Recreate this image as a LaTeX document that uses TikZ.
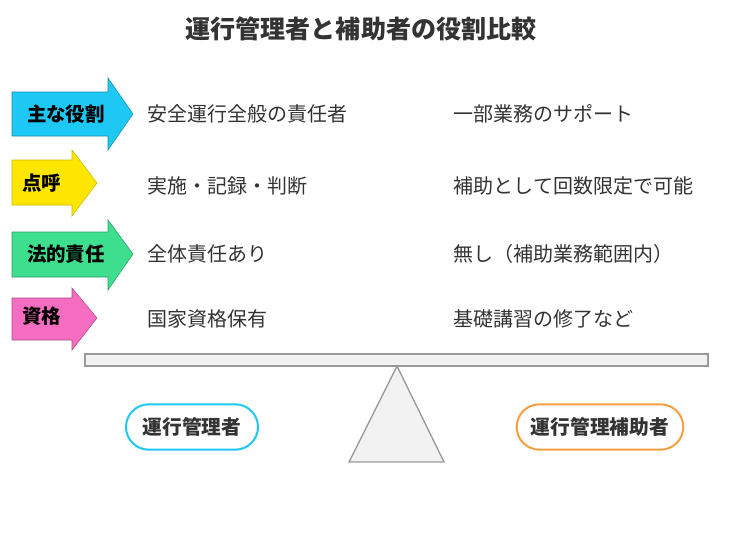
\documentclass[tikz,border=0pt]{standalone}
\usepackage{fontspec}
\setmainfont{Noto Sans CJK JP}
\begin{document}
\begin{tikzpicture}[x=0.75pt,y=-0.75pt,
  txt/.style={anchor=west,text=black!80,font=\fontsize{15}{18}\selectfont},
  lbl/.style={text=black,font=\bfseries\fontsize{14.6}{17}\selectfont},
  pill/.style={draw,line width=1.5pt,rounded corners=17pt,fill=white,minimum height=34pt,text=black!80,font=\bfseries\fontsize{14.8}{17}\selectfont}]
\useasboundingbox (0,0) rectangle (740,554);
\definecolor{cy}{HTML}{1EC8F5}\definecolor{ye}{HTML}{FFE600}
\definecolor{gr}{HTML}{3EDE8F}\definecolor{pk}{HTML}{F56DC0}
\definecolor{og}{HTML}{F5A040}
\node[text=black!80,font=\bfseries\fontsize{18.8}{22}\selectfont] (title) at (361,29) {運行管理者と補助者の役割比較};
% arrows
\draw[fill=cy,draw=cy!70!black] (12,92)--(108,92)--(108,78)--(133,114)--(108,150)--(108,136)--(12,136)--cycle;
\draw[fill=ye,draw=ye!80!black] (12,160)--(72,160)--(72,150)--(97,183)--(72,216)--(72,205)--(12,205)--cycle;
\draw[fill=gr,draw=gr!70!black] (12,232)--(108,232)--(108,220)--(133,254)--(108,290)--(108,277)--(12,277)--cycle;
\draw[fill=pk,draw=pk!70!black] (12,298)--(72,298)--(72,288)--(97,318)--(72,350)--(72,340)--(12,340)--cycle;
\node[lbl] (l1) at (66,114) {主な役割};
\node[lbl] (l2) at (42,183) {点呼};
\node[lbl] (l3) at (66,254) {法的責任};
\node[lbl] (l4) at (42,316) {資格};
\node[txt] (a1) at (143,114) {安全運行全般の責任者};
\node[txt] (a2) at (143,186) {実施・記録・判断};
\node[txt] (a3) at (143,254) {全体責任あり};
\node[txt] (a4) at (143,319) {国家資格保有};
\node[txt] (b1) at (449,114) {一部業務のサポート};
\node[txt] (b2) at (449,186) {補助として回数限定で可能};
\node[txt] (b3) at (449,254) {無し（補助業務範囲内）};
\node[txt] (b4) at (449,319) {基礎講習の修了など};
% balance
\draw[fill=black!5,draw=black!40,line width=1pt] (349,462)--(397,366)--(444,462)--cycle;
\draw[fill=black!5,draw=black!40,line width=1pt] (85,354) rectangle (708,366);
\node[pill,draw=cy,minimum width=99pt] (p1) at (192,427) {運行管理者};
\node[pill,draw=og,minimum width=125pt] (p2) at (600,427) {運行管理補助者};
\end{tikzpicture}
\end{document}
